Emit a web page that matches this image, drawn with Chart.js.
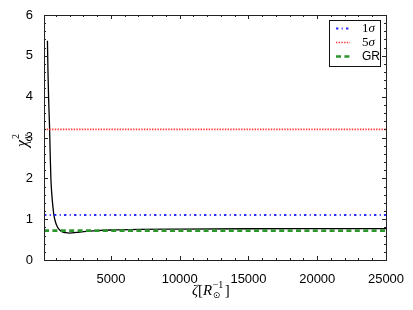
<!DOCTYPE html>
<html>
<head>
<meta charset="utf-8">
<script src="https://cdn.jsdelivr.net/npm/chart.js@4/dist/chart.umd.min.js"></script>
<style>
html,body{margin:0;padding:0;background:#fff;}
canvas{display:block;}
</style>
</head>
<body>
<canvas id="c" width="413" height="310"></canvas>
<script>
// ---- data ----
const zeta = [380, 420, 470, 530, 580, 630, 700, 780, 850, 950, 1050, 1200, 1400, 1700, 2000, 2500, 3000, 4000, 5000, 7000, 10000, 15000, 20000, 25000];
const chi2 = [5.37, 4.6, 3.9, 3.3, 2.6, 2.0, 1.6, 1.3, 1.1, 0.95, 0.85, 0.76, 0.70, 0.67, 0.66, 0.675, 0.695, 0.72, 0.735, 0.75, 0.758, 0.765, 0.768, 0.77];
const levelNames = ['1σ', '5σ', 'GR'];
const levelValues = [1.1, 3.2, 0.72];
const xRange = [130, 25000];
const yRange = [0, 6];
const xTickLabels = [5000, 10000, 15000, 20000, 25000];
const yTickLabels = [0, 1, 2, 3, 4, 5, 6];

const levelStyles = [
  {color: '#2a2aff', dash: [2.4, 3.3, 1.1, 3.2], width: 2},
  {color: '#ff3b3b', dash: [1.4, 1.3], width: 1.6},
  {color: '#2f962f', dash: [5, 3.4], width: 2.7}
];

const datasets = levelValues.map((v, i) => ({
  label: levelNames[i],
  data: xRange.map(x => ({x: x, y: v})),
  borderColor: levelStyles[i].color,
  borderDash: levelStyles[i].dash,
  borderWidth: levelStyles[i].width,
  borderCapStyle: 'butt',
  pointRadius: 0,
  fill: false
}));
datasets.push({
  label: 'curve',
  data: zeta.map((z, i) => ({x: z, y: chi2[i]})),
  borderColor: '#000',
  borderWidth: 1.3,
  pointRadius: 0,
  cubicInterpolationMode: 'monotone',
  fill: false
});

const serif = '"Liberation Serif","DejaVu Serif",serif';
const sans = '"Liberation Sans","DejaVu Sans",sans-serif';

const decor = {
  id: 'decor',
  afterDraw(chart) {
    const ctx = chart.ctx;
    const a = chart.chartArea;
    const xs = chart.scales.x, ys = chart.scales.y;
    ctx.save();
    // ticks (inward) on all four sides
    ctx.strokeStyle = '#222';
    ctx.lineWidth = 1;
    ctx.beginPath();
    for (let v = 1000; v <= xRange[1]; v += 1000) {
      if (v < xRange[0]) continue;
      const px = Math.round(xs.getPixelForValue(v)) + 0.5;
      const len = (v % 5000 === 0) ? 4 : 2;
      ctx.moveTo(px, a.bottom); ctx.lineTo(px, a.bottom - len);
      ctx.moveTo(px, a.top); ctx.lineTo(px, a.top + len);
    }
    for (let k = 0; k <= 30; k++) {
      const v = k * 0.2;
      const py = Math.round(ys.getPixelForValue(v)) + 0.5;
      const len = (k % 5 === 0) ? 4 : 2;
      ctx.moveTo(a.left, py); ctx.lineTo(a.left + len, py);
      ctx.moveTo(a.right, py); ctx.lineTo(a.right - len, py);
    }
    ctx.stroke();
    // frame
    ctx.strokeStyle = '#222';
    ctx.strokeRect(Math.round(a.left) + 0.5, Math.round(a.top) + 0.5, Math.round(a.right - a.left), Math.round(a.bottom - a.top));

    // legend
    const lx = 329.5, ly = 20.5, lw = 51, lh = 46;
    ctx.fillStyle = '#fff';
    ctx.fillRect(lx, ly, lw, lh);
    ctx.strokeStyle = '#111';
    ctx.lineWidth = 1;
    ctx.strokeRect(lx, ly, lw, lh);
    const rows = [28.5, 42.5, 56.5];
    levelNames.forEach((name, i) => {
      const st = levelStyles[i];
      ctx.save();
      ctx.strokeStyle = st.color;
      ctx.lineWidth = st.width;
      ctx.setLineDash(st.dash);
      ctx.beginPath();
      ctx.moveTo(336, rows[i]); ctx.lineTo(350, rows[i]);
      ctx.stroke();
      ctx.restore();
      ctx.fillStyle = '#000';
      ctx.textBaseline = 'middle';
      ctx.textAlign = 'left';
      if (name === 'GR') {
        ctx.font = '12px ' + sans;
        ctx.fillText(name, 362, rows[i] + 0.5);
      } else {
        ctx.font = '13px ' + serif;
        const d = name.charAt(0);
        ctx.fillText(d, 362, rows[i] + 0.5);
        const w = ctx.measureText(d).width;
        ctx.font = 'italic 13px ' + serif;
        ctx.fillText(name.slice(1), 362 + w, rows[i] + 0.5);
      }
    });

    // y axis title: chi^2_nu
    ctx.save();
    ctx.translate(27, 147);
    ctx.rotate(-Math.PI / 2);
    ctx.fillStyle = '#000';
    ctx.textBaseline = 'alphabetic';
    ctx.textAlign = 'left';
    ctx.font = 'italic 16px ' + serif;
    ctx.fillText('χ', 0, 0);
    const cw = ctx.measureText('χ').width;
    ctx.font = '10px ' + serif;
    ctx.fillText('2', cw + 1, -8);
    ctx.font = 'italic 10px ' + serif;
    ctx.fillText('ν', cw + 1, 3);
    ctx.restore();

    // x axis title: zeta[R_sun^-1]
    let x = 192;
    const by = 295;
    ctx.fillStyle = '#000';
    ctx.textBaseline = 'alphabetic';
    ctx.textAlign = 'left';
    ctx.font = 'italic 15px ' + serif;
    ctx.fillText('ζ', x, by); x += ctx.measureText('ζ').width;
    ctx.font = '15px ' + serif;
    ctx.fillText('[', x, by); x += ctx.measureText('[').width;
    ctx.font = 'italic 15px ' + serif;
    ctx.fillText('R', x, by); x += ctx.measureText('R').width + 0.5;
    ctx.font = '10px ' + serif;
    ctx.fillText('−1', x, by - 7);
    const w1 = ctx.measureText('−1').width;
    ctx.font = '9px "DejaVu Sans",sans-serif';
    ctx.fillText('⊙', x, by + 3);
    const w2 = ctx.measureText('⊙').width;
    x += Math.max(w1, w2) + 1.5;
    ctx.font = '15px ' + serif;
    ctx.fillText(']', x, by);
    ctx.restore();
  }
};

new Chart(document.getElementById('c'), {
  type: 'line',
  data: {datasets: datasets},
  options: {
    responsive: false,
    animation: false,
    devicePixelRatio: 1,
    layout: {padding: {left: 0, top: 15, right: 27, bottom: 0}},
    plugins: {legend: {display: false}, tooltip: {enabled: false}},
    scales: {
      x: {
        type: 'linear',
        min: xRange[0], max: xRange[1],
        afterBuildTicks: s => { s.ticks = xTickLabels.map(v => ({value: v})); },
        afterFit: s => { s.height = 50; },
        grid: {display: false},
        border: {display: false},
        ticks: {
          padding: 4,
          maxRotation: 0,
          autoSkip: false,
          color: '#000',
          font: {family: sans, size: 13},
          callback: v => String(v)
        }
      },
      y: {
        type: 'linear',
        min: yRange[0], max: yRange[1],
        afterBuildTicks: s => { s.ticks = yTickLabels.map(v => ({value: v})); },
        afterFit: s => { s.width = 44; },
        grid: {display: false},
        border: {display: false},
        ticks: {
          padding: 3,
          color: '#000',
          font: {family: sans, size: 13},
          callback: v => String(v)
        }
      }
    }
  },
  plugins: [decor]
});
</script>
</body>
</html>
